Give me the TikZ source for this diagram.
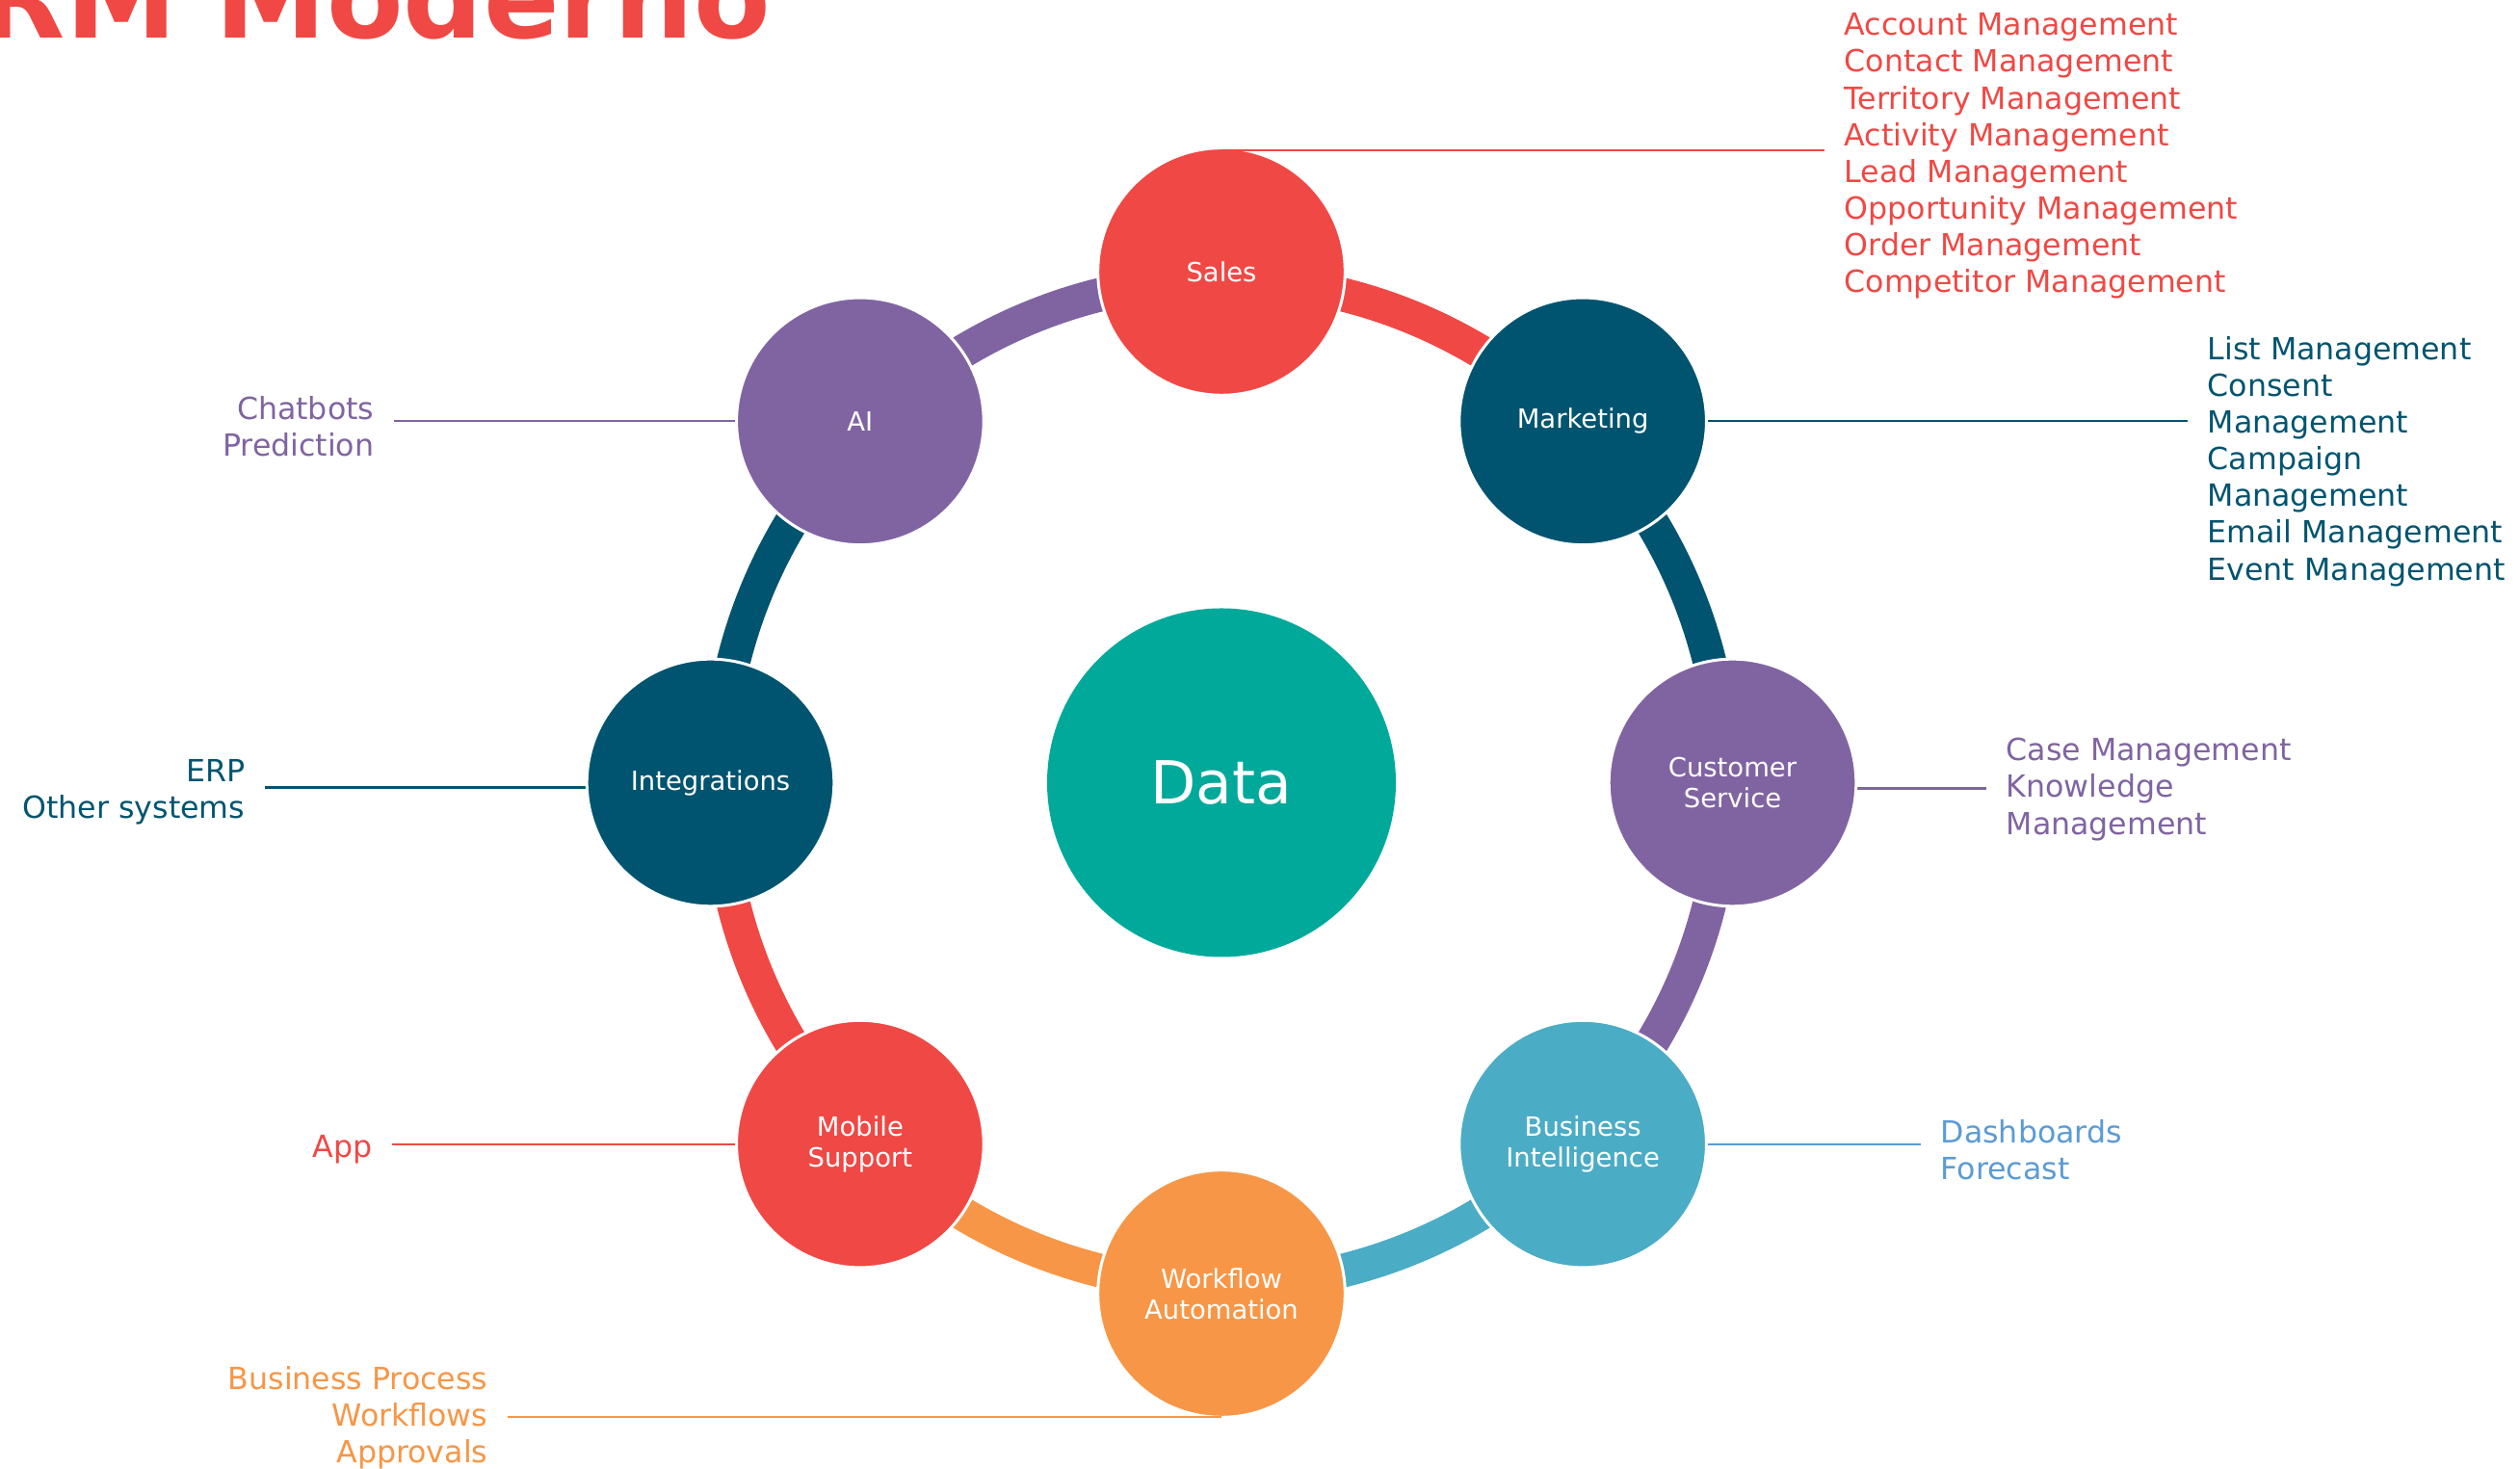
\documentclass[tikz,border=0pt]{standalone}
\usepackage{fontspec}
\setmainfont{DejaVu Sans}
\usetikzlibrary{positioning, calc, backgrounds}

\definecolor{crmred}{RGB}{240,72,68}
\definecolor{crmblue}{RGB}{0,84,112}
\definecolor{crmpurple}{RGB}{128,100,162}
\definecolor{crmaqua}{RGB}{75,172,198}
\definecolor{crmsky}{RGB}{91,155,213}
\definecolor{crmorange}{RGB}{247,150,70}
\definecolor{crmteal}{RGB}{0,169,154}

\begin{document}
\begin{tikzpicture}[module/.style={circle, draw=white, line width=0.03cm, minimum size=2.566cm,
			inner sep=0pt, text=white, align=center, font=\fontsize{7.8}{9.2}\selectfont},
			info/.style={inner xsep=0.2cm, inner ysep=0pt, font=\fontsize{9}{10.85}\selectfont},
			band/.style={line width=0.35cm},
			leader/.style={line width=0.6pt}]
			\useasboundingbox (0,0) rectangle (26.16,15.25);
			\clip (0,0) rectangle (26.16,15.25);
			
			\coordinate (hub) at (12.68,7.125);
			
			\node[anchor=base west, inner sep=0pt, text=crmred,
				font=\fontsize{33}{40}\selectfont\bfseries] (title) at (-1.07,14.85) {CRM Moderno};
			
			\node[circle, fill=crmteal, minimum size=3.62cm, text=white,
				font=\fontsize{17.5}{21}\selectfont] (data) at (hub) {Data};
			
			%Modulos em volta dos dados
			\node[module, fill=crmred]    (sales) at ([shift={(90:5.305)}]hub)   {Sales};
			\node[module, fill=crmblue]   (mkt)   at ([shift={(45:5.305)}]hub)   {Marketing};
			\node[module, fill=crmpurple] (cs)    at ([shift={(0:5.305)}]hub)    {Customer\\Service};
			\node[module, fill=crmaqua]   (bi)    at ([shift={(-45:5.305)}]hub)  {Business\\Intelligence};
			\node[module, fill=crmorange] (wf)    at ([shift={(-90:5.305)}]hub)  {Workflow\\Automation};
			\node[module, fill=crmred]    (mob)   at ([shift={(-135:5.305)}]hub) {Mobile\\Support};
			\node[module, fill=crmblue]   (integ) at ([shift={(180:5.305)}]hub)  {Integrations};
			\node[module, fill=crmpurple] (ai)    at ([shift={(135:5.305)}]hub)  {AI};
			
			%Listas de funcionalidades
			\node[info, anchor=west, align=left, text=crmred] (salesinfo) at (18.94,13.63)
				{Account Management\\Contact Management\\Territory Management\\Activity Management\\
				Lead Management\\Opportunity Management\\Order Management\\Competitor Management};
			\node[info, anchor=west, align=left, text=crmblue] (mktinfo) at (22.71,10.46)
				{List Management\\Consent\\Management\\Campaign\\Management\\Email Management\\Event Management};
			\node[info, anchor=west, align=left, text=crmpurple] (csinfo) at (20.62,7.055)
				{Case Management\\Knowledge\\Management};
			\node[info, anchor=west, align=left, text=crmsky] (biinfo) at (19.94,3.31)
				{Dashboards\\Forecast};
			\node[info, anchor=east, align=right, text=crmorange] (wfinfo) at (5.27,0.535)
				{Business Process\\Workflows\\Approvals};
			\node[info, anchor=east, align=right, text=crmred] (mobinfo) at (4.07,3.32) {App};
			\node[info, anchor=east, align=right, text=crmblue] (integinfo) at (2.75,7.025)
				{ERP\\Other systems};
			\node[info, anchor=east, align=right, text=crmpurple] (aiinfo) at (4.09,10.82)
				{Chatbots\\Prediction};
			
			\draw[leader, crmred]    ([yshift=-0.04cm]sales.north) -- ([yshift=-0.04cm]sales.north -| salesinfo.west);
			\draw[leader, crmorange] ([yshift=0.02cm]wf.south) -- ([yshift=0.02cm]wf.south -| wfinfo.east);
			
			\begin{scope}[on background layer]
				%Anel: cada arco tem a cor do modulo de partida
				\foreach \a/\c in {90/crmred, 45/crmblue, 0/crmpurple, -45/crmaqua,
					-90/crmorange, -135/crmred, -180/crmblue, -225/crmpurple}
					\draw[band, \c] ([shift={(\a:5.22)}]hub) arc[start angle=\a, end angle=\a-45, radius=5.22];
				
				\draw[leader, crmblue]   (mkt.east) -- (mkt.east -| mktinfo.west);
				\draw[leader, crmpurple] ([yshift=-0.06cm]cs.east) -- ([yshift=-0.06cm]cs.east -| csinfo.west);
				\draw[leader, crmsky]    (bi.east) -- (bi.east -| biinfo.west);
				\draw[leader, crmred]    (mob.west) -- (mob.west -| mobinfo.east);
				\draw[leader, crmblue]   ([yshift=-0.05cm]integ.west) -- ([yshift=-0.05cm]integ.west -| integinfo.east);
				\draw[leader, crmpurple] (ai.west) -- (ai.west -| aiinfo.east);
			\end{scope}
		\end{tikzpicture}
\end{document}
